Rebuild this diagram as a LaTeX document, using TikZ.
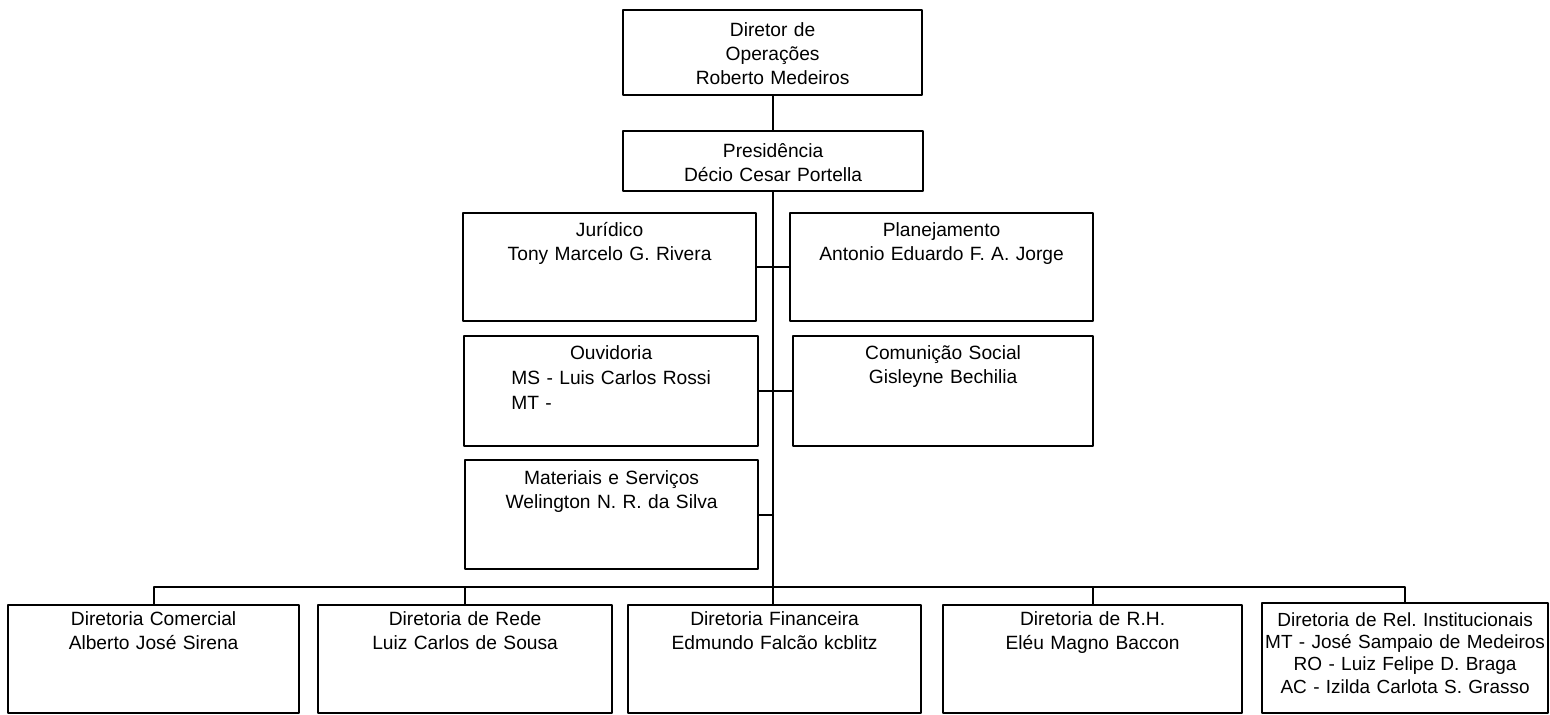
\documentclass[tikz,border=0pt]{standalone}
\usepackage{fontspec}
\setmainfont{Liberation Sans}

\begin{document}
\begin{tikzpicture}[line cap=round,line join=round,x=1pt,y=-1pt,
		caixa/.style={draw,line width=1.1pt,inner sep=0pt,anchor=north west,align=center,font=\fontsize{9.6}{12}\selectfont},
		liga/.style={line width=1pt}]
		\useasboundingbox (0,0) rectangle (775,357.5);
		% topo
		\node[caixa,text width=149.5pt,text height=13pt,text depth=29.5pt] (dirop) at (311,4.5) {Diretor de\\Operações\\Roberto Medeiros};
		\node[caixa,text width=150pt,text height=13pt,text depth=17pt] (pres) at (311,65) {Presidência\\Décio Cesar Portella};
		% assessorias
		\node[caixa,text width=146.5pt,text height=11.5pt,text depth=42.5pt] (jur) at (231,106) {Jurídico\\Tony Marcelo G. Rivera};
		\node[caixa,text width=151.5pt,text height=11.5pt,text depth=42.5pt] (plan) at (394.5,106) {Planejamento\\Antonio Eduardo F. A. Jorge};
		\node[caixa,text width=147pt,text height=11.5pt,text depth=43.5pt,font=\fontsize{9.6}{12.5}\selectfont] (ouv) at (231.5,167.5) {Ouvidoria\\MS - Luis Carlos Rossi\\\leavevmode\rlap{MT -}\phantom{MS - Luis Carlos Rossi}};
		\node[caixa,text width=150pt,text height=11.5pt,text depth=43.5pt] (com) at (396,167.5) {Comunição Social\\Gisleyne Bechilia};
		\node[caixa,text width=146.5pt,text height=12pt,text depth=42.5pt] (mat) at (232,229.5) {Materiais e Serviços\\Welington N. R. da Silva};
		% diretorias
		\node[caixa,text width=145.5pt,text height=10pt,text depth=44pt] (dcom) at (3.5,302) {Diretoria Comercial\\Alberto José Sirena};
		\node[caixa,text width=147pt,text height=10pt,text depth=44pt] (rede) at (158.5,302) {Diretoria de Rede\\Luiz Carlos de Sousa};
		\node[caixa,text width=146.5pt,text height=10pt,text depth=44pt] (fin) at (313.5,302) {Diretoria Financeira\\Edmundo Falcão kcblitz};
		\node[caixa,text width=149.5pt,text height=10pt,text depth=44pt] (rh) at (471,302) {Diretoria de R.H.\\Eléu Magno Baccon};
		\node[caixa,text width=143pt,text height=11.5pt,text depth=43.5pt,font=\fontsize{9.5}{11.2}\selectfont] (rel) at (630.5,301) {Diretoria de Rel.\ Institucionais\\\mbox{MT - José Sampaio de Medeiros}\\RO - Luiz Felipe D. Braga\\AC - Izilda Carlota S. Grasso};
		% ligacoes
		\coordinate (barra) at (386.5,293.5);
		\draw[liga] (dirop.south) -- (dirop.south |- pres.north);
		\draw[liga] (pres.south) -- (pres.south |- fin.north);
		\draw[liga] (jur.east) -- (plan.west);
		\draw[liga] (ouv.east) -- (com.west);
		\draw[liga] (mat.east) -- (mat.east -| pres.south);
		\draw[liga] (dcom.north) |- (barra) -| (rel.north);
		\foreach \n in {rede,rh}
			\draw[liga] (\n.north) -- (\n.north |- barra);
	\end{tikzpicture}
\end{document}
